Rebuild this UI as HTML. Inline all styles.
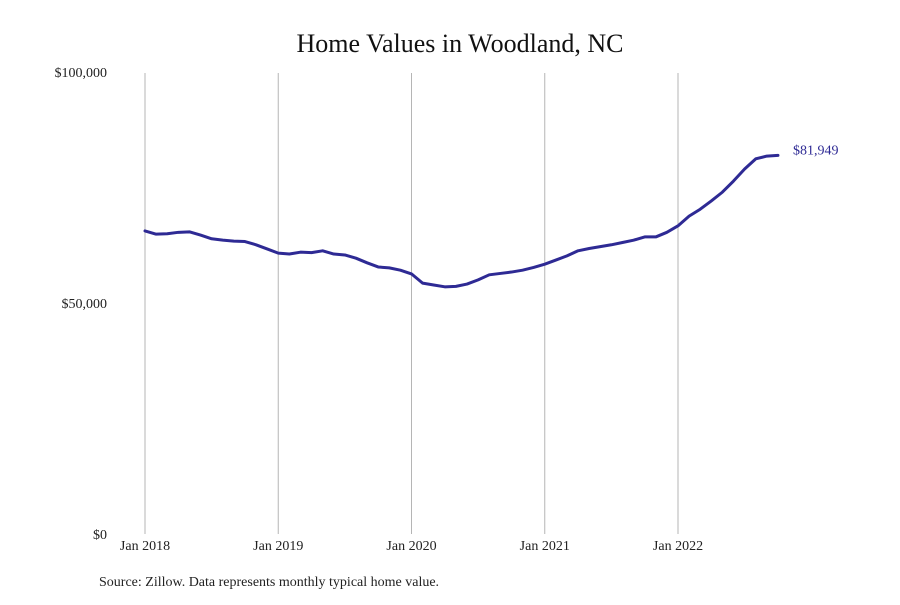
<!DOCTYPE html>
<html><head><meta charset="utf-8"><style>
body{margin:0;background:#fff;}
svg text{font-family:"Liberation Serif",serif;}
</style></head><body>
<svg width="900" height="600" viewBox="0 0 900 600">
<text x="460" y="52" text-anchor="middle" font-size="26" fill="#111">Home Values in Woodland, NC</text>
<g id="grid"></g>
<g id="yaxis"></g>
<g id="xaxis"></g>
<g id="series"></g>
<text x="99" y="586" font-size="14" fill="#222">Source: Zillow. Data represents monthly typical home value.</text>
</svg>
<script>
const yTicks=[0,50000,100000];
const yTickLabels=["$0","$50,000","$100,000"];
const xTickMonths=[0,12,24,36,48];
const xTickLabels=["Jan 2018","Jan 2019","Jan 2020","Jan 2021","Jan 2022"];
const values=[65600,64900,65000,65300,65400,64700,63900,63600,63400,63300,62600,61700,
60800,60600,61000,60900,61300,60600,60400,59700,58700,57800,57600,57100,
56300,54300,53900,53500,53600,54100,55000,56100,56400,56700,57100,57700,
58400,59300,60200,61300,61800,62200,62600,63100,63600,64300,64300,65300,
66700,68800,70300,72100,74000,76400,79000,81200,81800,81949];
const endLabel="$81,949";
const NS="http://www.w3.org/2000/svg";
const x=m=>145+m*(533/48);
const y=v=>534-v*(462/100000);
function mk(t,a,p){const e=document.createElementNS(NS,t);for(const k in a)e.setAttribute(k,a[k]);p.appendChild(e);return e;}
const grid=document.getElementById('grid'),ya=document.getElementById('yaxis'),xa=document.getElementById('xaxis'),se=document.getElementById('series');
xTickMonths.forEach((m,i)=>{
 const l=mk('line',{x1:x(m),x2:x(m),y1:y(100000)+1,y2:534,stroke:'#b5b5b5','stroke-width':1},grid);
 
 
 const t=mk('text',{x:x(m),y:550,'text-anchor':'middle','font-size':14,fill:'#222'},xa);
 t.textContent=xTickLabels[i];
 
 
});
yTicks.forEach((v,i)=>{
 const t=mk('text',{x:107,y:y(v)+5,'text-anchor':'end','font-size':14,fill:'#222'},ya);
 t.textContent=yTickLabels[i];
 
 
});
const p=mk('polyline',{points:values.map((v,i)=>x(i)+','+y(v)).join(' '),fill:'none',stroke:'#2e2a94','stroke-width':3,'stroke-linejoin':'round','stroke-linecap':'round'},se);


const last=values.length-1;
const el=mk('text',{x:x(last)+15,y:y(values[last])-1,'font-size':14,fill:'#2e2a94'},se);
el.textContent=endLabel;


</script>
</body></html>
